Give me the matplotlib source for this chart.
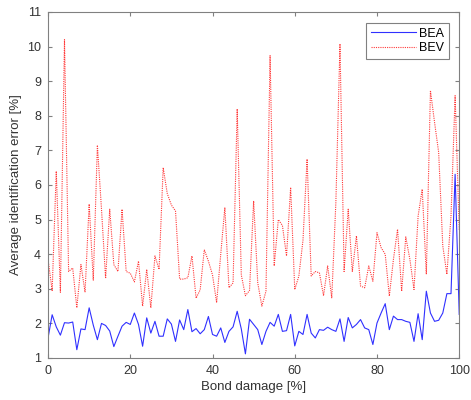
import matplotlib
matplotlib.use("Agg")
import matplotlib.pyplot as plt

# Bond damage [%] (one sample per percent)
damage = list(range(0, 101))

# average identification error [%]
bea = [1.58, 2.25, 1.90, 1.66, 2.02, 2.01, 2.04, 1.24, 1.84, 1.82,
       2.45, 1.95, 1.53, 2.00, 1.94, 1.78, 1.33, 1.63, 1.92, 2.03,
       1.97, 2.30, 1.97, 1.34, 2.16, 1.72, 2.06, 1.63, 1.63, 2.13,
       1.98, 1.48, 2.10, 1.82, 2.40, 1.76, 1.85, 1.70, 1.82, 2.20,
       1.68, 1.63, 1.87, 1.45, 1.77, 1.90, 2.35, 1.84, 1.12, 2.12,
       1.97, 1.82, 1.39, 1.77, 2.03, 1.92, 2.26, 1.77, 1.79, 2.26,
       1.35, 1.77, 1.68, 2.26, 1.72, 1.58, 1.82, 1.80, 1.89, 1.82,
       1.77, 2.13, 1.48, 2.17, 1.87, 1.97, 2.11, 1.87, 1.82, 1.39,
       2.01, 2.30, 2.57, 1.82, 2.21, 2.11, 2.11, 2.06, 2.03, 1.48,
       2.28, 1.53, 2.93, 2.30, 2.06, 2.09, 2.30, 2.86, 2.86, 6.31,
       2.26]

bev = [3.85, 2.95, 6.40, 2.90, 10.20, 3.50, 3.60, 2.45, 3.70, 2.90,
       5.45, 3.25, 7.15, 5.30, 3.30, 5.30, 3.70, 3.50, 5.30, 3.50,
       3.45, 3.20, 3.80, 2.50, 3.56, 2.45, 3.95, 3.56, 6.50, 5.75,
       5.42, 5.25, 3.28, 3.28, 3.32, 3.95, 2.73, 2.97, 4.13, 3.80,
       3.40, 2.60, 4.00, 5.35, 3.03, 3.17, 8.20, 3.40, 2.80, 2.95,
       5.54, 3.17, 2.50, 2.93, 9.74, 3.66, 5.00, 4.83, 3.95, 5.93,
       2.98, 3.37, 4.40, 6.75, 3.37, 3.50, 3.46, 2.80, 3.66, 2.74,
       5.50, 10.08, 3.50, 5.30, 3.50, 4.53, 3.08, 3.03, 3.66, 3.22,
       4.62, 4.19, 4.00, 2.79, 3.85, 4.72, 2.93, 4.50, 3.85, 2.98,
       5.10, 5.88, 3.42, 8.73, 7.81, 6.94, 4.24, 3.42, 5.10, 8.58,
       4.70]

plt.rcParams['font.family'] = ['Liberation Sans', 'DejaVu Sans']

fig = plt.figure(figsize=(4.71, 4.0), dpi=100)
ax = fig.add_axes([0.102, 0.105, 0.873, 0.865])

ax.plot(damage, bea, color='#3030ff', lw=0.8, label='BEA')
ax.plot(damage, bev, color='#ff3838', lw=0.8, ls=(0, (1, 1)), label='BEV')

ax.set_xlim(0, 100)
ax.set_ylim(1, 11)
ax.set_xticks(range(0, 101, 20))
ax.set_yticks(range(1, 12))

grey = '0.5'
for sp in ax.spines.values():
    sp.set_color(grey)
    sp.set_linewidth(0.8)
ax.tick_params(direction='in', top=True, right=True, length=3,
               color=grey, labelcolor='0.2', labelsize=9, pad=5)

ax.set_xlabel('Bond damage [%]', fontsize=9.5, color='0.2', labelpad=3)
ax.set_ylabel('Average identification error [%]', fontsize=9.5,
              color='0.2', labelpad=4)

leg = ax.legend(loc='upper right', fontsize=9, handlelength=3.6,
                fancybox=False, framealpha=1, borderpad=0.35,
                labelspacing=0.2, handletextpad=0.3,
                bbox_to_anchor=(0.99, 0.985))
leg.get_frame().set_edgecolor(grey)
leg.get_frame().set_linewidth(0.8)

fig.savefig('out.png', dpi=100)
